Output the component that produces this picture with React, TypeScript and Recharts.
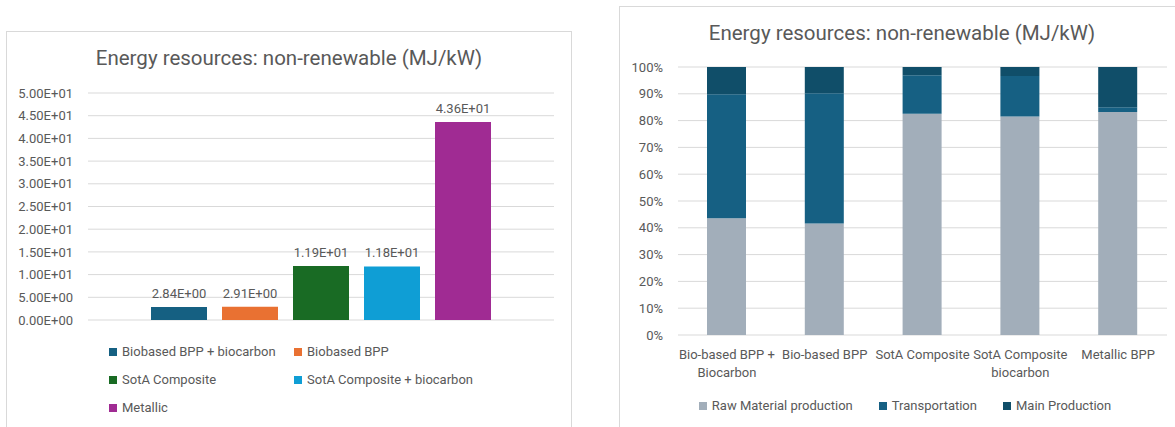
import React from 'react';
import { BarChart, Bar, XAxis, YAxis, CartesianGrid, LabelList } from 'recharts';

// left chart: one group, one bar per technology
const leftSeries = ['Biobased BPP + biocarbon', 'Biobased BPP', 'SotA Composite', 'SotA Composite + biocarbon', 'Metallic'];
const leftValues = [2.84, 2.91, 11.9, 11.8, 43.6];
const leftColors = ['#156082', '#E97132', '#196B24', '#0F9ED5', '#A02B93'];
const leftTicks = [0, 5, 10, 15, 20, 25, 30, 35, 40, 45, 50];

// right chart: stacked shares per technology
const rightCategories = ['Bio-based BPP + Biocarbon', 'Bio-based BPP', 'SotA Composite', 'SotA Composite biocarbon', 'Metallic BPP'];
const rawMaterial = [43.6, 41.6, 82.6, 81.5, 83.2];
const transportation = [46.2, 48.6, 14.3, 15.1, 1.8];
const mainProduction = [10.2, 9.8, 3.1, 3.4, 15.0];
const rightSeries = ['Raw Material production', 'Transportation', 'Main Production'];
const rightColors = ['#A2AEBA', '#166083', '#104E69'];
const rightTicks = [0, 0.1, 0.2, 0.3, 0.4, 0.5, 0.6, 0.7, 0.8, 0.9, 1];

const TITLE = 'Energy resources: non-renewable (MJ/kW)';
const FONT = 'Roboto, sans-serif';
const TEXT = '#595959';
const GRID = '#D9D9D9';

const leftKeys = leftSeries.map((_, i) => `s${i}`);
const leftData = [leftKeys.reduce((row: any, k, i) => ({ ...row, [k]: leftValues[i] }), { name: 'all' })];

const rightKeys = ['raw', 'transport', 'main'];
const rightData = rightCategories.map((name, i) => ({
  name,
  raw: rawMaterial[i],
  transport: transportation[i],
  main: mainProduction[i],
}));

const sci = (v: number) => {
  const [m, e] = Number(v).toExponential(2).split('e');
  const n = Number(e);
  return `${m}E${n < 0 ? '-' : '+'}${String(Math.abs(n)).padStart(2, '0')}`;
};

const wrapLabel = (s: string, max: number) => {
  const lines: string[] = [];
  let cur = '';
  s.split(' ').forEach((w) => {
    const next = cur ? `${cur} ${w}` : w;
    if (next.length > max && cur) {
      lines.push(cur);
      cur = w;
    } else {
      cur = next;
    }
  });
  if (cur) lines.push(cur);
  return lines;
};

const CategoryTick = ({ x, y, payload }: any) => {
  const lines = wrapLabel(payload.value, 15);
  return (
    <text x={x} y={y} textAnchor="middle" fill={TEXT} fontSize={13} fontFamily={FONT}>
      {lines.map((l, i) => (
        <tspan key={i} x={x} dy={i === 0 ? 16 : 18}>{l}</tspan>
      ))}
    </text>
  );
};

const Swatch = ({ color }: { color: string }) => (
  <span style={{ display: 'inline-block', width: 8, height: 8, background: color, marginRight: 5 }} />
);

const panel: React.CSSProperties = {
  position: 'absolute',
  width: 566,
  height: 460,
  border: `1px solid ${GRID}`,
  boxSizing: 'border-box',
  background: '#fff',
};

const titleStyle: React.CSSProperties = {
  position: 'absolute',
  top: 15,
  left: 0,
  width: 566,
  textAlign: 'center',
  fontSize: 20.5,
  lineHeight: '24px',
  color: TEXT,
  fontFamily: FONT,
};

export default function App() {
  return (
    <div style={{ position: 'absolute', left: 0, top: 0, width: 1175, height: 427, overflow: 'hidden', background: '#fff' }}>
      {/* left panel */}
      <div style={{ ...panel, left: 6, top: 31 }} />
      <div style={{ position: 'absolute', left: 6, top: 31 }}>
        <div style={titleStyle}>{TITLE}</div>
        <BarChart width={566} height={396} data={leftData} margin={{ top: 62, right: 18, bottom: 107, left: 0 }} barSize={56} barGap={15}>
          <CartesianGrid vertical={false} stroke={GRID} />
          <XAxis dataKey="name" hide />
          <YAxis
            domain={[0, 50]}
            ticks={leftTicks}
            interval={0}
            width={82}
            tickFormatter={sci}
            axisLine={false}
            tickLine={false}
            tickMargin={9}
            tick={{ fill: TEXT, fontSize: 13, fontFamily: FONT }}
          />
          {leftKeys.map((k, i) => (
            <Bar key={k} dataKey={k} name={leftSeries[i]} fill={leftColors[i]} isAnimationActive={false}>
              <LabelList dataKey={k} position="top" offset={9} formatter={(v: any) => sci(v)} fill={TEXT} fontSize={13} fontFamily={FONT} />
            </Bar>
          ))}
        </BarChart>
        <div style={{ position: 'absolute', left: 103, top: 312, width: 400, fontFamily: FONT, fontSize: 13, color: TEXT }}>
          {leftSeries.map((s, i) => (
            <div key={s} style={{ position: 'absolute', left: (i % 2) * 185, top: Math.floor(i / 2) * 28, whiteSpace: 'nowrap', lineHeight: '18px', display: 'flex', alignItems: 'center' }}>
              <Swatch color={leftColors[i]} />
              {s}
            </div>
          ))}
        </div>
      </div>

      {/* right panel */}
      <div style={{ ...panel, left: 619, top: 6 }} />
      <div style={{ position: 'absolute', left: 619, top: 6 }}>
        <div style={titleStyle}>{TITLE}</div>
        <BarChart width={566} height={421} data={rightData} stackOffset="expand" margin={{ top: 61, right: 18, bottom: 32, left: 0 }} barSize={39}>
          <CartesianGrid vertical={false} stroke={GRID} />
          <XAxis dataKey="name" axisLine={false} tickLine={false} interval={0} height={60} tick={<CategoryTick />} />
          <YAxis
            domain={[0, 1]}
            ticks={rightTicks}
            interval={0}
            width={59}
            tickFormatter={(v: number) => `${Math.round(v * 100)}%`}
            axisLine={false}
            tickLine={false}
            tickMargin={9}
            tick={{ fill: TEXT, fontSize: 13, fontFamily: FONT }}
          />
          {rightKeys.map((k, i) => (
            <Bar key={k} dataKey={k} stackId="a" name={rightSeries[i]} fill={rightColors[i]} isAnimationActive={false} />
          ))}
        </BarChart>
        <div style={{ position: 'absolute', left: 0, top: 391, width: 566, display: 'flex', justifyContent: 'center', gap: 26, paddingLeft: 6, boxSizing: 'border-box', fontFamily: FONT, fontSize: 13, color: TEXT }}>
          {rightSeries.map((s, i) => (
            <div key={s} style={{ display: 'flex', alignItems: 'center', whiteSpace: 'nowrap', lineHeight: '18px' }}>
              <Swatch color={rightColors[i]} />
              {s}
            </div>
          ))}
        </div>
      </div>
    </div>
  );
}
